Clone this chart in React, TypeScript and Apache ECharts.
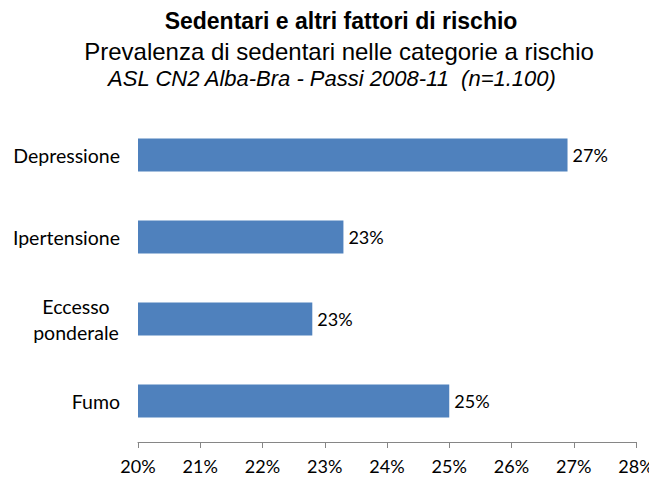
import React, { useEffect, useRef } from "react";
import * as echarts from "echarts";

const categories = ["Fumo", "Eccesso\nponderale", "Ipertensione", "Depressione"];
const values = [25.0, 22.8, 23.3, 26.9];
const valueLabels = ["25%", "23%", "23%", "27%"];
const xTicks = [20, 21, 22, 23, 24, 25, 26, 27, 28];

const titleText = "Sedentari e altri fattori di rischio";
const subtitleText = "Prevalenza di sedentari nelle categorie a rischio";
const noteText = "ASL CN2 Alba-Bra - Passi 2008-11  (n=1.100)";

export default function App() {
  const ref = useRef<HTMLDivElement>(null);
  useEffect(() => {
    if (!ref.current) return;
    const chart = echarts.init(ref.current, null, { renderer: "svg" });
    const labelFont = "Lato, 'Open Sans', sans-serif";
    chart.setOption({
      animation: false,
      backgroundColor: "#ffffff",
      graphic: [
        {
          type: "text",
          x: 341,
          y: 9,
          style: {
            text: titleText,
            align: "center",
            font: "bold 23px 'Liberation Sans', Arial, sans-serif",
            fill: "#000",
          },
        },
        {
          type: "text",
          x: 339,
          y: 39,
          style: {
            text: subtitleText,
            align: "center",
            font: "24px 'Liberation Sans', Arial, sans-serif",
            fill: "#000",
          },
        },
        {
          type: "text",
          x: 332,
          y: 67,
          style: {
            text: noteText,
            align: "center",
            font: "italic 22px 'Liberation Sans', Arial, sans-serif",
            fill: "#000",
          },
        },
      ],
      grid: { left: 138, right: 21, top: 114, bottom: 41, containLabel: false },
      xAxis: {
        type: "value",
        min: 20,
        max: 28,
        interval: 1,
        axisLine: { show: true, lineStyle: { color: "#868686", width: 1 } },
        axisTick: { show: true, length: 6, lineStyle: { color: "#868686" } },
        splitLine: { show: false },
        axisLabel: {
          formatter: (v: number) => (xTicks.includes(v) ? `${v}%` : ""),
          color: "#000",
          fontFamily: labelFont,
          fontSize: 18,
          margin: 15,
        },
      },
      yAxis: {
        type: "category",
        data: categories,
        axisLine: { show: false },
        axisTick: { show: false },
        axisLabel: {
          color: "#000",
          fontFamily: labelFont,
          fontSize: 19.5,
          margin: 18,
          lineHeight: 26,
          formatter: (v: string) =>
            v.includes("\n")
              ? v
                  .split("\n")
                  .map((s) => `{c|${s}}`)
                  .join("\n")
              : v,
          rich: {
            c: {
              width: 88,
              align: "center",
              fontFamily: labelFont,
              fontSize: 19.5,
              color: "#000",
              lineHeight: 26,
            },
          },
        },
      },
      series: [
        {
          type: "bar",
          data: values,
          barWidth: "40%",
          itemStyle: { color: "#4F81BD" },
          label: {
            show: true,
            position: "right",
            distance: 5,
            color: "#000",
            fontFamily: labelFont,
            fontSize: 18,
            formatter: (p: any) => valueLabels[p.dataIndex],
          },
        },
      ],
    });
    return () => chart.dispose();
  }, []);
  return <div ref={ref} style={{ width: 657, height: 483, margin: -8 }} />;
}
